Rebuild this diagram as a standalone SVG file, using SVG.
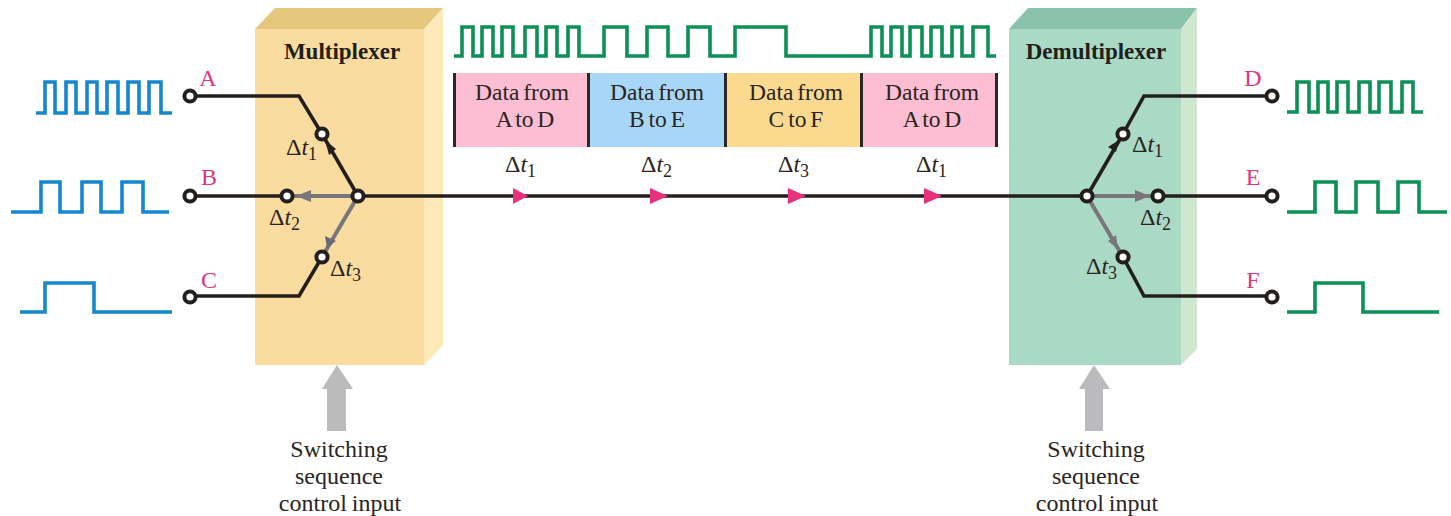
<svg xmlns="http://www.w3.org/2000/svg" width="1451" height="516" viewBox="0 0 1451 516">
<style>
text{font-family:"Liberation Serif","Times New Roman",serif;fill:#2a2522}
.t{font-size:23.5px;text-anchor:middle;word-spacing:-2px}
.c{font-size:24px;text-anchor:middle;word-spacing:-1px}
.h{font-size:23px;font-weight:bold;text-anchor:middle;fill:#221f1a}
.l{font-size:24px;text-anchor:middle;fill:#e0347f}
.d{font-size:24px}
.d .i{font-style:italic}
.d .s{font-size:18px}
.wb{fill:none;stroke:#1487cf;stroke-width:3.6}
.wg{fill:none;stroke:#0c9055;stroke-width:3.6}
.k{fill:none;stroke:#231f1c;stroke-width:3.6}
.g{fill:none;stroke:#77767a;stroke-width:4}
.n{fill:#fff;stroke:#231f1c;stroke-width:4}
.sep{fill:#2a2826}
.pa{fill:#e8307c}
.ga{fill:#bbbbbd}
</style>
<defs>
<g id="tick"><circle r="5.6" class="n"/></g>
</defs>

<g id="multiplexer">
<polygon points="255,29 275,8 443,8 424,29" fill="#e6c77e"/>
<polygon points="424,29 443,8 443,345 424,365" fill="#fde8b8"/>
<rect x="255" y="29" width="169" height="336" fill="#fbdca0"/>
<text class="h" x="342" y="59">Multiplexer</text>
</g>
<g id="demultiplexer">
<polygon points="1009,29 1028,8 1197,8 1181,29" fill="#8ac2ac"/>
<polygon points="1181,29 1197,8 1197,349 1181,365" fill="#cfe6cf"/>
<rect x="1009" y="29" width="172" height="336" fill="#aadac6"/>
<text class="h" x="1096" y="59">Demultiplexer</text>
</g>

<g id="connectors">
<path class="k" d="M190,96H299L322,134"/>
<path class="k" d="M190,196H287"/>
<path class="k" d="M190,296H299L322,257"/>
<path class="k" d="M358,196L322,134"/>
<path class="g" d="M358,196H287"/>
<path class="g" d="M358,196L322,257"/>
<path class="k" d="M358,196H1087"/>
<path class="k" d="M1272,96H1144L1123,134"/>
<path class="k" d="M1272,196H1158"/>
<path class="k" d="M1272,296H1144L1123,257"/>
<path class="k" d="M1087,196L1123,134"/>
<path class="g" d="M1087,196H1158"/>
<path class="g" d="M1087,196L1123,257"/>
<polygon points="325,140 336,149 329,155" fill="#231f1c"/>
<polygon points="296,196 311,190 311,202" fill="#77767a"/>
<polygon points="327,248 325,236 336,241" fill="#686a78"/>
<polygon points="1119,140 1116,152 1108,147" fill="#231f1c"/>
<polygon points="1150,196 1135,190 1135,202" fill="#77767a"/>
<polygon points="1118,249 1108,241 1116,235" fill="#77767a"/>
<polygon class="pa" points="513,188 528,196 513,204"/>
<polygon class="pa" points="650,188 668,196 650,204"/>
<polygon class="pa" points="788,188 806,196 788,204"/>
<polygon class="pa" points="924,188 942,196 924,204"/>
<polygon id="control-mux" class="ga" points="337,365 353,389 346,389 346,431 327,431 327,389 322,389"/>
<polygon id="control-demux" class="ga" points="1094,365 1110,389 1103,389 1103,431 1085,431 1085,389 1079,389"/>
</g>

<g id="waveforms">
<path class="wb" d="M36,113H45V82H55V113H66V82H76V113H87V82H97V113H107V82H118V113H128V82H139V113H149V82H161V113H172"/>
<path class="wb" d="M11,212H41V182H60V212H82V182H101V212H122V182H143V212H169"/>
<path class="wb" d="M20,312H45V283H94V312H172"/>
<path class="wg" d="M454,56H462V27H473V56H482V27H493V56H502V27H513V56H525V27H537V56H546V27H557V56H568V27H579V56H604V27H627V56H647V27H668V56H688V27H710V56H735V27H786V56H871V27H882V56H891V27H902V56H910V27H922V56H931V27H942V56H952V27H962V56H973V27H988V56H996"/>
<path class="wg" d="M1287,112H1297V82H1309V112H1318V82H1328V112H1337V82H1348V112H1359V82H1370V112H1379V82H1391V112H1402V82H1413V112H1423"/>
<path class="wg" d="M1287,212H1315V182H1336V212H1356V182H1378V212H1398V182H1419V212H1447"/>
<path class="wg" d="M1287,312H1315V283H1363V312H1439"/>
</g>

<g id="terminal-A"><use href="#tick" x="190" y="96"/><text class="l" x="208" y="86">A</text></g>
<g id="terminal-B"><use href="#tick" x="190" y="196"/><text class="l" x="209" y="185">B</text></g>
<g id="terminal-C"><use href="#tick" x="190" y="297"/><text class="l" x="209" y="288">C</text></g>
<g id="terminal-D"><use href="#tick" x="1272" y="96"/><text class="l" x="1253" y="86">D</text></g>
<g id="terminal-E"><use href="#tick" x="1272" y="196"/><text class="l" x="1253" y="185">E</text></g>
<g id="terminal-F"><use href="#tick" x="1272" y="297"/><text class="l" x="1253" y="288">F</text></g>

<g id="switch-mux">
<use href="#tick" x="322" y="134"/><use href="#tick" x="287" y="196"/><use href="#tick" x="322" y="257"/><use href="#tick" x="358" y="196"/>
<text class="d" x="286" y="155">Δ<tspan class="i">t</tspan><tspan class="s" dy="5">1</tspan></text>
<text class="d" x="269" y="225">Δ<tspan class="i">t</tspan><tspan class="s" dy="5">2</tspan></text>
<text class="d" x="330" y="276">Δ<tspan class="i">t</tspan><tspan class="s" dy="5">3</tspan></text>
</g>
<g id="switch-demux">
<use href="#tick" x="1123" y="134"/><use href="#tick" x="1158" y="196"/><use href="#tick" x="1123" y="257"/><use href="#tick" x="1087" y="196"/>
<text class="d" x="1132" y="152">Δ<tspan class="i">t</tspan><tspan class="s" dy="5">1</tspan></text>
<text class="d" x="1140" y="225">Δ<tspan class="i">t</tspan><tspan class="s" dy="5">2</tspan></text>
<text class="d" x="1086" y="274">Δ<tspan class="i">t</tspan><tspan class="s" dy="5">3</tspan></text>
</g>

<g id="slot-1"><rect x="453" y="73" width="135" height="74" fill="#fdbdd3"/><rect class="sep" x="453" y="73" width="3" height="74"/><text class="t" x="522" y="100">Data from</text><text class="t" x="525" y="127">A to D</text>
<text class="d" x="505" y="172">Δ<tspan class="i">t</tspan><tspan class="s" dy="5">1</tspan></text></g>
<g id="slot-2"><rect x="587" y="73" width="137" height="74" fill="#a8d6f6"/><rect class="sep" x="587" y="73" width="3" height="74"/><text class="t" x="657" y="100">Data from</text><text class="t" x="657" y="127">B to E</text>
<text class="d" x="641" y="172">Δ<tspan class="i">t</tspan><tspan class="s" dy="5">2</tspan></text></g>
<g id="slot-3"><rect x="724" y="73" width="136" height="74" fill="#fbd98f"/><rect class="sep" x="724" y="73" width="3" height="74"/><text class="t" x="796" y="100">Data from</text><text class="t" x="796" y="127">C to F</text>
<text class="d" x="778" y="172">Δ<tspan class="i">t</tspan><tspan class="s" dy="5">3</tspan></text></g>
<g id="slot-4"><rect x="860" y="73" width="136" height="74" fill="#fdbdd3"/><rect class="sep" x="860" y="73" width="3" height="74"/><rect class="sep" x="995" y="73" width="3" height="74"/><text class="t" x="932" y="100">Data from</text><text class="t" x="932" y="127">A to D</text>
<text class="d" x="916" y="172">Δ<tspan class="i">t</tspan><tspan class="s" dy="5">1</tspan></text></g>

<g id="label-mux-control"><text class="c" x="339" y="457">Switching</text><text class="c" x="339" y="484">sequence</text><text class="c" x="340" y="511">control input</text></g>
<g id="label-demux-control"><text class="c" x="1096" y="457">Switching</text><text class="c" x="1096" y="484">sequence</text><text class="c" x="1097" y="511">control input</text></g>
</svg>
